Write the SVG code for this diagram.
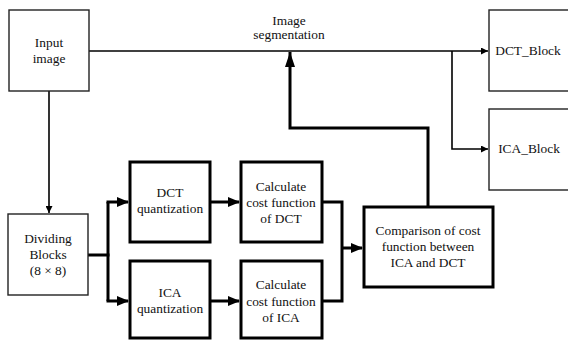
<svg xmlns="http://www.w3.org/2000/svg" width="568" height="340" viewBox="0 0 568 340">
  <style>
    text { font-family: "Liberation Serif", "Times New Roman", serif; font-size: 13.4px; fill: #111; text-anchor: middle; }
    .thin { fill: #fff; stroke: #222; stroke-width: 1.4; }
    .thick { fill: #fff; stroke: #000; stroke-width: 3; }
    .wire { fill: none; stroke: #000; stroke-width: 1.6; }
    .bold { fill: none; stroke: #000; stroke-width: 3; }
  </style>
  <defs>
    <marker id="arrowThin" viewBox="0 0 10 10" refX="10" refY="5" markerWidth="10" markerHeight="7" markerUnits="userSpaceOnUse" orient="auto">
      <path d="M0,0 L10,5 L0,10 Z" fill="#000"/>
    </marker>
    <marker id="arrowBold" viewBox="0 0 12 10" refX="11" refY="5" markerWidth="13" markerHeight="10" markerUnits="userSpaceOnUse" orient="auto">
      <path d="M0,0 L12,5 L0,10 Z" fill="#000"/>
    </marker>
    <marker id="arrowUp" viewBox="0 0 15 10" refX="15" refY="5" markerWidth="15" markerHeight="10" markerUnits="userSpaceOnUse" orient="auto">
      <path d="M0,0 L15,5 L0,10 Z" fill="#000"/>
    </marker>
  </defs>

  <rect width="568" height="340" fill="#fff"/>

  <!-- connectors -->
  <g id="connectors">
    <line class="wire" x1="89" y1="51" x2="488" y2="51" marker-end="url(#arrowThin)"/>
    <polyline class="wire" points="452,51 452,149 488,149" marker-end="url(#arrowThin)"/>
    <line class="wire" x1="49" y1="91" x2="49" y2="213" marker-end="url(#arrowThin)"/>
    <line class="bold" x1="88" y1="255" x2="109.5" y2="255"/>
    <line class="bold" x1="108" y1="202" x2="108" y2="301"/>
    <line class="bold" x1="106.5" y1="202" x2="128" y2="202" marker-end="url(#arrowBold)"/>
    <line class="bold" x1="106.5" y1="301" x2="128" y2="301" marker-end="url(#arrowBold)"/>
    <line class="bold" x1="210" y1="202" x2="239" y2="202" marker-end="url(#arrowBold)"/>
    <line class="bold" x1="210" y1="301" x2="239" y2="301" marker-end="url(#arrowBold)"/>
    <polyline class="bold" points="322,202 342,202 342,301 322,301"/>
    <line class="bold" x1="342" y1="248" x2="362" y2="248" marker-end="url(#arrowBold)"/>
    <polyline class="bold" points="428,206 428,128 290,128 290,52" marker-end="url(#arrowUp)"/>
    <text x="289" y="25">Image</text>
    <text x="289" y="39">segmentation</text>
  </g>

  <g id="input-image">
    <rect class="thin" x="9" y="10" width="80" height="81"/>
    <text x="49" y="47">Input</text>
    <text x="49" y="63">image</text>
  </g>

  <g id="dct-block">
    <rect class="thin" x="489" y="10" width="100" height="81"/>
    <text x="528" y="55">DCT_Block</text>
  </g>

  <g id="ica-block">
    <rect class="thin" x="489" y="109" width="100" height="81"/>
    <text x="529" y="153">ICA_Block</text>
  </g>

  <g id="dividing-blocks">
    <rect class="thin" x="8" y="214" width="80" height="81"/>
    <text x="48" y="243">Dividing</text>
    <text x="48" y="259">Blocks</text>
    <text x="48" y="275">(8 × 8)</text>
  </g>

  <g id="dct-quantization">
    <rect class="thick" x="130" y="162" width="80" height="80"/>
    <text x="170" y="197">DCT</text>
    <text x="170" y="213">quantization</text>
  </g>

  <g id="ica-quantization">
    <rect class="thick" x="130" y="261" width="80" height="77"/>
    <text x="170" y="297">ICA</text>
    <text x="170" y="313">quantization</text>
  </g>

  <g id="cost-dct">
    <rect class="thick" x="241" y="162" width="81" height="80"/>
    <text x="281" y="191">Calculate</text>
    <text x="281" y="207">cost function</text>
    <text x="281" y="223">of DCT</text>
  </g>

  <g id="cost-ica">
    <rect class="thick" x="241" y="261" width="81" height="77"/>
    <text x="281" y="289">Calculate</text>
    <text x="281" y="306">cost function</text>
    <text x="281" y="322">of ICA</text>
  </g>

  <g id="comparison">
    <rect class="thick" x="364" y="207" width="129" height="80"/>
    <text x="428" y="235">Comparison of cost</text>
    <text x="428" y="251">function between</text>
    <text x="428" y="267">ICA and DCT</text>
  </g>
</svg>
